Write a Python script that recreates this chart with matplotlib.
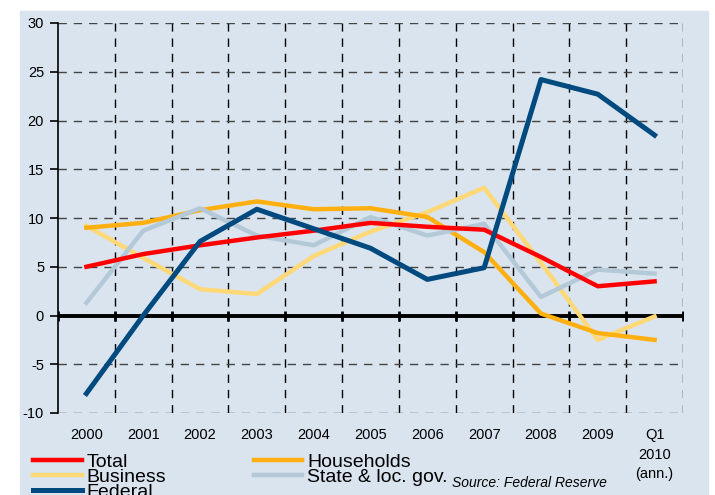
import numpy as np
import matplotlib
matplotlib.use("Agg")
from matplotlib import pyplot as plt
from matplotlib.patches import Rectangle

plt.rcParams['font.family'] = ['Liberation Sans', 'DejaVu Sans']
plt.rcParams['axes.unicode_minus'] = False

# data (annual growth, %)
labels = ["2000", "2001", "2002", "2003", "2004", "2005", "2006", "2007",
          "2008", "2009", "Q1\n2010\n(ann.)"]
total = [5.0, 6.3, 7.2, 8.0, 8.7, 9.5, 9.1, 8.8, 6.0, 3.0, 3.5]
households = [9.0, 9.5, 10.8, 11.7, 10.9, 11.0, 10.1, 6.5, 0.2, -1.8, -2.5]
business = [9.2, 5.9, 2.7, 2.2, 6.1, 8.6, 10.6, 13.1, 5.4, -2.5, -0.1]
state_loc = [1.3, 8.7, 11.0, 8.2, 7.2, 10.1, 8.2, 9.4, 1.9, 4.7, 4.3]
federal = [-8.0, 0.0, 7.6, 10.9, 8.9, 6.9, 3.7, 4.9, 24.2, 22.7, 18.5]

bg = "#d9e4ee"
fig = plt.figure(figsize=(7.15, 4.95), dpi=100)
fig.patches.append(Rectangle((20 / 715, 0), 688 / 715, 1 - 11 / 495,
                             transform=fig.transFigure, color=bg, zorder=-10))
ax = fig.add_axes([58 / 715, 1 - 413 / 495, 625 / 715, 390 / 495])
ax.set_facecolor(bg)

x = np.arange(len(labels))
ax.set_xlim(-0.5, len(labels) - 0.5)
ax.set_ylim(-10, 30)

# grid
for b in np.arange(0.5, len(labels), 1.0):
    ax.axvline(b, color="black", lw=1.0, ls=(0, (6, 5)), zorder=1)
for yv in range(-10, 31, 5):
    if yv != 0:
        ax.axhline(yv, color="#444444", lw=1.0, ls=(0, (6, 5)), zorder=1)
ax.axhline(0, color="black", lw=2.8, zorder=2)
ax.plot(np.arange(-0.5, len(labels), 1.0), np.zeros(len(labels) + 1), ls="none",
        marker="|", ms=7, mew=2, color="black", zorder=2)

ax.plot(x, total, color="#ff0000", lw=3.2, label="Total", zorder=4)
ax.plot(x, business, color="#ffd878", lw=3.2, label="Business", zorder=3)
ax.plot(x, federal, color="#004a80", lw=3.6, label="Federal", zorder=5)
ax.plot(x, households, color="#ffb010", lw=3.2, label="Households", zorder=3)
ax.plot(x, state_loc, color="#b4c9d8", lw=3.2, label="State & loc. gov.", zorder=3)

for s in ["top", "right", "bottom"]:
    ax.spines[s].set_visible(False)
ax.spines["left"].set_linewidth(1.2)
ax.set_yticks(range(-10, 31, 5))
ax.tick_params(axis="y", length=6, width=1.2, labelsize=10.5, pad=4)
ax.set_xticks(x)
ax.set_xticklabels(labels, fontsize=10.5, va="top", linespacing=1.5)
ax.tick_params(axis="x", length=0, pad=11)

leg = fig.legend(loc="upper left", bbox_to_anchor=(33 / 715, 1 - 453 / 495),
                 ncol=2, frameon=False, fontsize=14, handlelength=2.5,
                 handletextpad=0.25, labelspacing=-0.12, columnspacing=4.5,
                 borderaxespad=0, borderpad=0)

fig.text(452 / 715, 1 - 483 / 495, "Source: Federal Reserve", fontsize=10,
         style="italic", va="center", ha="left")

fig.savefig("out.png", dpi=100, facecolor="white")
